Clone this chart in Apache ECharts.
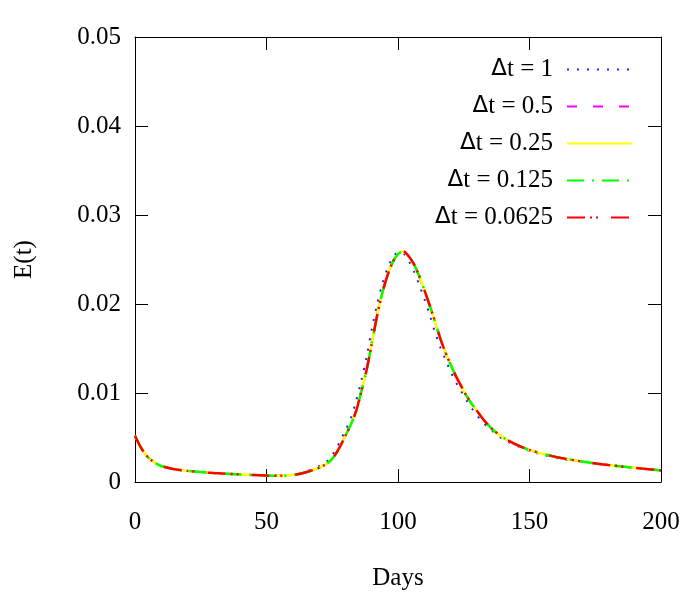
<!DOCTYPE html>
<html>
<head>
<meta charset="utf-8">
<script src="https://cdn.jsdelivr.net/npm/echarts@6/dist/echarts.min.js"></script>
<style>html,body{margin:0;padding:0;background:#fff;}#c{width:700px;height:600px;}</style>
</head>
<body>
<div id="c"></div>
<script>
const days = [0, 2, 4, 6, 8, 10, 14, 20, 30, 40, 50, 55, 60, 65, 70, 72, 74, 76, 78, 80, 82, 84, 86, 88, 90, 92, 94, 96, 98, 100, 102, 104, 106, 108, 110, 112, 114, 116, 118, 120, 122, 124, 126, 128, 130, 132, 134, 136, 140, 145, 150, 156, 162, 170, 180, 190, 200];
const eDt1 = [0.0052, 0.0040, 0.0031, 0.0025, 0.0021, 0.0018, 0.0015, 0.00125, 0.0010, 0.00085, 0.00072, 0.00071, 0.0008, 0.0012, 0.0018, 0.0021, 0.0026, 0.0035, 0.0046, 0.0058, 0.0071, 0.0090, 0.0113, 0.0140, 0.0171, 0.0199, 0.0222, 0.0240, 0.0252, 0.0258, 0.0257, 0.0249, 0.0237, 0.0222, 0.0206, 0.0188, 0.0169, 0.0152, 0.0138, 0.0124, 0.0112, 0.0102, 0.0092, 0.0083, 0.0075, 0.0068, 0.0062, 0.0057, 0.0048, 0.0041, 0.0035, 0.0030, 0.0026, 0.0023, 0.0019, 0.0016, 0.0013];
const eDt05 = [0.0052, 0.0040, 0.0031, 0.0025, 0.0021, 0.0018, 0.0015, 0.00125, 0.0010, 0.00085, 0.00072, 0.0007, 0.00078, 0.0011, 0.0016, 0.0019, 0.0023, 0.0030, 0.0040, 0.0052, 0.0064, 0.0080, 0.0102, 0.0126, 0.0156, 0.0187, 0.0213, 0.0233, 0.0247, 0.0256, 0.0259, 0.0254, 0.0245, 0.0231, 0.0215, 0.0198, 0.0180, 0.0162, 0.0146, 0.0132, 0.0119, 0.0108, 0.0097, 0.0088, 0.0080, 0.0072, 0.0065, 0.0059, 0.0050, 0.0042, 0.0036, 0.0031, 0.0027, 0.0023, 0.0019, 0.0016, 0.0013];
const eDt025 = [0.0052, 0.0040, 0.0031, 0.0025, 0.0021, 0.0018, 0.0015, 0.00125, 0.0010, 0.00085, 0.00072, 0.0007, 0.00078, 0.0011, 0.0016, 0.0019, 0.0023, 0.0030, 0.0040, 0.0052, 0.0064, 0.0079, 0.0101, 0.0125, 0.0155, 0.0186, 0.0212, 0.0232, 0.0247, 0.0256, 0.0259, 0.0254, 0.0245, 0.0232, 0.0216, 0.0199, 0.0181, 0.0162, 0.0146, 0.0132, 0.0119, 0.0108, 0.0097, 0.0088, 0.0080, 0.0072, 0.0065, 0.0059, 0.0050, 0.0042, 0.0036, 0.0031, 0.0027, 0.0023, 0.0019, 0.0016, 0.0013];
const eDt0125 = eDt025.slice();
const eDt00625 = eDt025.slice();
const xTicks = [0, 50, 100, 150, 200];
const yTicks = [0, 0.01, 0.02, 0.03, 0.04, 0.05];
const seriesNames = ['\u0394t = 1', '\u0394t = 0.5', '\u0394t = 0.25', '\u0394t = 0.125', '\u0394t = 0.0625'];

const FONT = 'Liberation Serif';
const pairs = arr => days.map((d, i) => [d, arr[i]]);
const styles = [
  { color: '#2020ff', width: 2, type: [2, 8] },
  { color: '#ff00ff', width: 2, type: [10, 16] },
  { color: '#ffff00', width: 2.5, type: 'solid' },
  { color: '#00ff00', width: 2.5, type: [17, 8, 2, 8] },
  { color: '#ff0000', width: 2.5, type: [18, 5, 2, 4, 2, 13] }
];
const datas = [eDt1, eDt05, eDt025, eDt0125, eDt00625];

const chart = echarts.init(document.getElementById('c'), null, { renderer: 'canvas' });
const tickStyle = { show: true, inside: true, length: 13, lineStyle: { color: '#000', width: 1 } };
chart.setOption({
  animation: false,
  backgroundColor: '#fff',
  textStyle: { fontFamily: FONT },
  grid: { left: 135, right: 39, top: 37, bottom: 118, containLabel: false },
  legend: {
    data: seriesNames,
    right: 67,
    top: 57,
    orient: 'vertical',
    align: 'right',
    itemWidth: 65,
    itemHeight: 14,
    itemGap: 12,
    padding: 0,
    itemStyle: { opacity: 0 },
    formatter: name => '{d|\u0394}{t|' + name.slice(1) + '}',
    textStyle: {
      fontFamily: FONT, fontSize: 25, color: '#000', padding: [0, 9, 0, 0],
      rich: {
        d: { fontFamily: 'DejaVu Sans', fontSize: 23, color: '#000' },
        t: { fontFamily: FONT, fontSize: 25, color: '#000' }
      }
    }
  },
  xAxis: [
    {
      type: 'value', min: xTicks[0], max: xTicks[xTicks.length - 1], interval: 50,
      name: 'Days', nameLocation: 'middle', nameGap: 84,
      nameTextStyle: { fontFamily: FONT, fontSize: 25, color: '#000' },
      axisLine: { show: true, onZero: false, lineStyle: { color: '#000', width: 1 } },
      axisTick: tickStyle,
      axisLabel: { margin: 28, fontFamily: FONT, fontSize: 25, color: '#000' },
      splitLine: { show: false }
    },
    {
      type: 'value', position: 'top', min: xTicks[0], max: xTicks[xTicks.length - 1], interval: 50,
      axisLine: { show: true, onZero: false, lineStyle: { color: '#000', width: 1 } },
      axisTick: tickStyle,
      axisLabel: { show: false },
      splitLine: { show: false }
    }
  ],
  yAxis: [
    {
      type: 'value', min: yTicks[0], max: yTicks[yTicks.length - 1], interval: 0.01,
      name: 'E(t)', nameLocation: 'middle', nameGap: 98, nameRotate: 90,
      nameTextStyle: { fontFamily: FONT, fontSize: 25, color: '#000' },
      axisLine: { show: true, onZero: false, lineStyle: { color: '#000', width: 1 } },
      axisTick: tickStyle,
      axisLabel: { margin: 14, fontFamily: FONT, fontSize: 25, color: '#000',
        formatter: v => (v === 0 ? '0' : String(Math.round(v * 100) / 100)) },
      splitLine: { show: false }
    },
    {
      type: 'value', position: 'right', min: yTicks[0], max: yTicks[yTicks.length - 1], interval: 0.01,
      axisLine: { show: true, onZero: false, lineStyle: { color: '#000', width: 1 } },
      axisTick: tickStyle,
      axisLabel: { show: false },
      splitLine: { show: false }
    }
  ],
  series: seriesNames.map((name, i) => ({
    name: name,
    type: 'line',
    xAxisIndex: 0,
    yAxisIndex: 0,
    data: pairs(datas[i]),
    smooth: 0.3,
    symbol: 'none',
    showSymbol: false,
    z: 2 + i,
    lineStyle: styles[i],
    itemStyle: { color: styles[i].color }
  }))
});
</script>
</body>
</html>
